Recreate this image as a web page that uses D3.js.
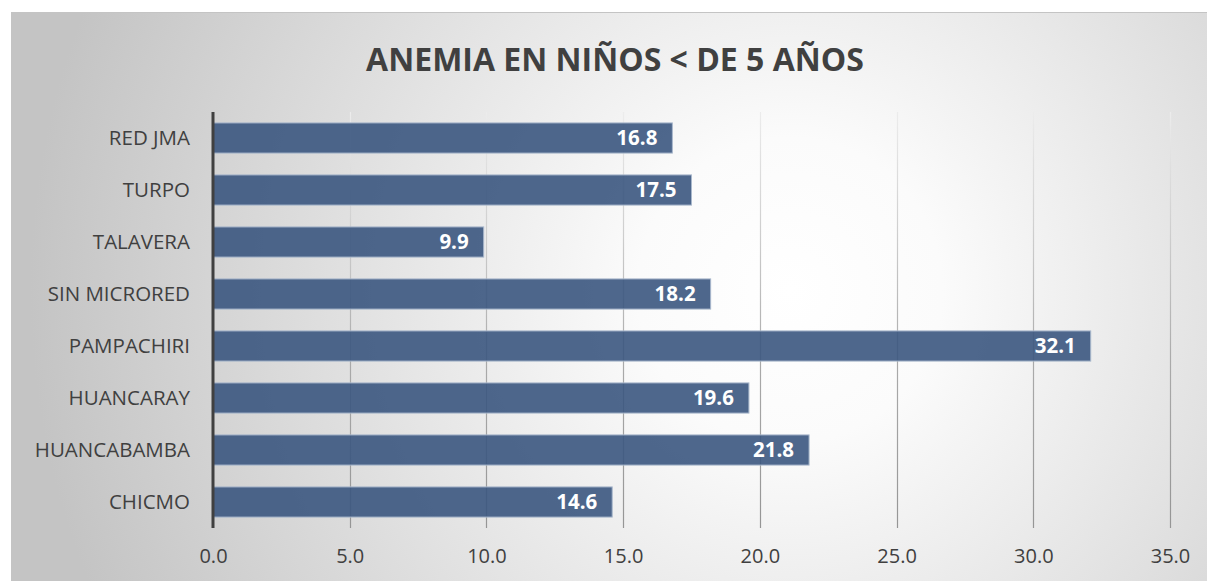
<!DOCTYPE html>
<html>
<head>
<meta charset="utf-8">
<script src="https://cdn.jsdelivr.net/npm/d3@7"></script>
<style>
  html, body { margin:0; padding:0; background:#fff; }
  svg { display:block; }
</style>
</head>
<body>
<div id="chart"></div>
<script>
// データ
var categories = ["RED JMA", "TURPO", "TALAVERA", "SIN MICRORED", "PAMPACHIRI", "HUANCARAY", "HUANCABAMBA", "CHICMO"];
var values = [16.8, 17.5, 9.9, 18.2, 32.1, 19.6, 21.8, 14.6];
var ticks = [0, 5, 10, 15, 20, 25, 30, 35];
var title = "ANEMIA EN NIÑOS < DE 5 AÑOS";

var W = 1207, H = 581;
var fontFam = "'Open Sans', 'Noto Sans', sans-serif";

var svg = d3.select("#chart").append("svg")
  .attr("width", W)
  .attr("height", H);

var defs = svg.append("defs");

// 背景グラデーション
var bg = defs.append("radialGradient")
  .attr("id", "bg")
  .attr("gradientUnits", "userSpaceOnUse")
  .attr("cx", 790).attr("cy", 290).attr("r", 760);
bg.append("stop").attr("offset", "0").attr("stop-color", "#ffffff");
bg.append("stop").attr("offset", "0.2").attr("stop-color", "#fbfbfb");
bg.append("stop").attr("offset", "1").attr("stop-color", "#c4c4c4");

// グリッド線の色 (上が薄い)
var gg = defs.append("linearGradient")
  .attr("id", "gridg")
  .attr("gradientUnits", "userSpaceOnUse")
  .attr("x1", 0).attr("y1", 112).attr("x2", 0).attr("y2", 528);
gg.append("stop").attr("offset", "0").attr("stop-color", "#ececec");
gg.append("stop").attr("offset", "0.3").attr("stop-color", "#cdcdcd");
gg.append("stop").attr("offset", "0.6").attr("stop-color", "#aaaaaa");
gg.append("stop").attr("offset", "1").attr("stop-color", "#959595");

// 枠
svg.append("rect")
  .attr("x", 11.5).attr("y", 12.5)
  .attr("width", W).attr("height", H)
  .attr("fill", "url(#bg)")
  .attr("stroke", "#c4c4c4")
  .attr("stroke-width", 1);

// タイトル
svg.append("text")
  .attr("x", 615).attr("y", 71)
  .attr("text-anchor", "middle")
  .style("font-family", fontFam)
  .style("font-weight", "bold")
  .style("font-size", "32px")
  .style("fill", "#404040")
  .text(title);

var m = {left: 213, right: 1170, top: 112, bottom: 528};

var x = d3.scaleLinear().domain([0, 35]).range([m.left, m.right]);
var y = d3.scaleBand().domain(categories).range([m.top, m.bottom]).paddingInner(0.42).paddingOuter(0.21);

// グリッド
svg.append("g")
  .selectAll("line")
  .data(ticks.slice(1))
  .enter().append("line")
  .attr("x1", function(d){return Math.round(x(d))+0.5})
  .attr("x2", function(d){return Math.round(x(d))+0.5})
  .attr("y1", m.top)
  .attr("y2", m.bottom)
  .attr("stroke", "url(#gridg)")
  .attr("stroke-width", 1.2);

// 棒
svg.append("g")
  .selectAll("rect")
  .data(values)
  .enter().append("rect")
  .attr("x", x(0))
  .attr("y", function(d, i){return y(categories[i])})
  .attr("width", function(d){return x(d)-x(0)})
  .attr("height", y.bandwidth())
  .attr("fill", "#3b5680")
  .attr("fill-opacity", 0.9)
  .attr("stroke", "#a9b8cc")
  .attr("stroke-width", 1);

// 値ラベル
svg.append("g")
  .selectAll("text")
  .data(values)
  .enter().append("text")
  .attr("x", function(d){return x(d)-15})
  .attr("y", function(d, i){return y(categories[i])+y.bandwidth()/2})
  .attr("dy", "0.36em")
  .attr("text-anchor", "end")
  .style("font-family", fontFam)
  .style("font-weight", "bold")
  .style("font-size", "20.5px")
  .style("fill", "#ffffff")
  .text(function(d){return d.toFixed(1)});

// Y軸
var yAxis = svg.append("g")
  .attr("transform", "translate(" + m.left + ",0)")
  .call(d3.axisLeft(y).tickSize(0).tickPadding(23));
yAxis.select(".domain").remove();
yAxis.selectAll("text")
  .style("font-family", fontFam)
  .style("font-size", "20.5px")
  .style("fill", "#404040");

svg.append("line")
  .attr("x1", m.left).attr("x2", m.left)
  .attr("y1", m.top).attr("y2", m.bottom)
  .attr("stroke", "#404040")
  .attr("stroke-width", 3);

// X軸
var xAxis = svg.append("g")
  .attr("transform", "translate(0," + m.bottom + ")")
  .call(d3.axisBottom(x).tickValues(ticks).tickSize(0).tickPadding(21).tickFormat(d3.format(".1f")));
xAxis.select(".domain").remove();
xAxis.selectAll("text")
  .style("font-family", fontFam)
  .style("font-size", "20px")
  .style("fill", "#404040");
</script>
</body>
</html>
